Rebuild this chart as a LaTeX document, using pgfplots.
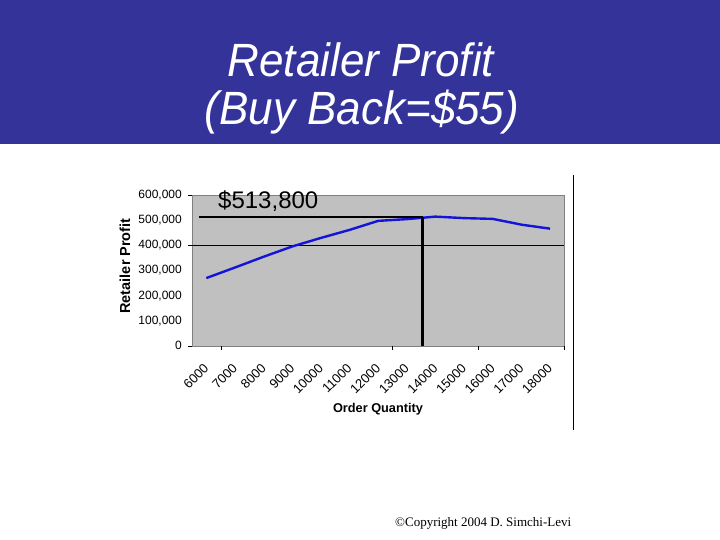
\documentclass[border=0pt]{standalone}
\usepackage{fontspec}
\setmainfont{Liberation Sans}
\newfontfamily\timesfont{Liberation Serif}
\usepackage{pgfplots}
\pgfplotsset{compat=1.18}
\definecolor{slideblue}{RGB}{51,51,153}
\definecolor{plotgray}{RGB}{192,192,192}
\definecolor{lineblue}{RGB}{20,20,215}
\begin{document}
\begin{tikzpicture}[x=1pt,y=1pt]
  \useasboundingbox (0,0) rectangle (720,-540);
  \fill[white] (0,0) rectangle (720,-540);
  % title band
  \fill[slideblue] (0,0) rectangle (720,-144);
  \node[text=white, font=\fontsize{44}{48}\selectfont\itshape, anchor=base, inner sep=0pt, yscale=1.06]
    at (361,-76.7) {Retailer Profit};
  \node[text=white, font=\fontsize{44}{48}\selectfont\itshape, anchor=base, inner sep=0pt, yscale=1.06]
    at (362,-125) {(Buy Back=\$55)};

  \begin{axis}[
      at={(192pt,-195.3pt)}, anchor=north west,
      scale only axis,
      width=372.3pt, height=150.5pt,
      xmin=-0.5, xmax=12.5,
      ymin=0, ymax=600000,
      axis background/.style={fill=plotgray},
      axis line style={draw=gray},
      tick align=outside,
      tick pos=left,
      major tick length=4pt,
      xtick={0,...,12},
      xticklabels={6000,7000,8000,9000,10000,11000,12000,13000,14000,15000,16000,17000,18000},
      xtick style={draw=none},
      xticklabel style={font=\fontsize{13}{15}\selectfont, rotate=45, anchor=east, inner sep=0pt},
      xticklabel shift=16pt,
      extra x ticks={0.5,6.5,9.5,12.5},
      extra x tick labels={},
      extra x tick style={xtick style={draw=black}},
      ytick={0,100000,200000,300000,400000,500000,600000},
      yticklabels={0,{100,000},{200,000},{300,000},{400,000},{500,000},{600,000}},
      ytick style={draw=none},
      yticklabel style={font=\fontsize{12}{14}\selectfont, inner sep=0pt, anchor=east},
      yticklabel shift=6pt,
      extra y ticks={0,400000,600000},
      extra y tick labels={},
      extra y tick style={ytick style={draw=black}},
      scaled y ticks=false,
      clip=false,
    ]
    % gridline at 400,000
    \addplot[black, line width=0.8pt, mark=none] coordinates {(-0.5,400000) (12.5,400000)};
    % retailer profit
    \addplot[lineblue, line width=2.4pt, mark=none] coordinates {
      (0,270000) (1,312000) (2,355000) (3,396000) (4,430000) (5,462000)
      (6,498000) (7,505000) (8,515000) (9,509000) (10,506000) (11,483000) (12,467000)
    };
    % optimum marker lines
    \addplot[black, line width=2.6pt, mark=none] coordinates {(-0.25,513800) (7.55,513800)};
    \addplot[black, line width=2.6pt, mark=none] coordinates {(7.55,0) (7.55,513800)};
  \end{axis}

  \node[anchor=base west, inner sep=0pt, font=\fontsize{24}{28}\selectfont] at (218,-209) {\$513,800};
  \node[rotate=90, font=\fontsize{14.5}{16}\selectfont\bfseries] at (125,-266) {Retailer Profit};
  \node[anchor=base, inner sep=0pt, font=\fontsize{12.75}{15}\selectfont\bfseries] at (378,-412.5) {Order Quantity};
  \draw[black, line width=1pt] (573.3,-175) -- (573.3,-430);
  \node[anchor=base west, inner sep=0pt, font=\timesfont\fontsize{13}{15}\selectfont] at (395,-526) {©Copyright 2004 D. Simchi-Levi};
\end{tikzpicture}
\end{document}
